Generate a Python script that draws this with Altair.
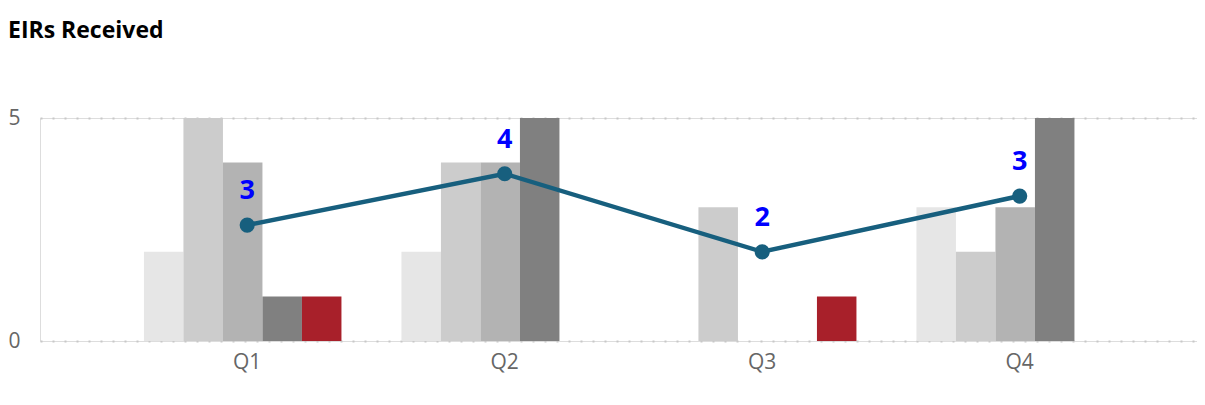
import altair as alt
import pandas as pd

quarters = ["Q1", "Q2", "Q3", "Q4"]
series = ["S1", "S2", "S3", "S4", "S5"]
series_colors = ["#e6e6e6", "#cccccc", "#b3b3b3", "#808080", "#a8202a"]
# bar values per series for Q1..Q4
values = {
    "S1": [2, 2, 0, 3],
    "S2": [5, 4, 3, 2],
    "S3": [4, 4, 0, 3],
    "S4": [1, 5, 0, 5],
    "S5": [1, 0, 1, 0],
}
line_values = [2.6, 3.75, 2.0, 3.25]
line_labels = ["3", "4", "2", "3"]

rows = []
for s in series:
    for q, v in zip(quarters, values[s]):
        rows.append({"quarter": q, "series": s, "value": v})
bars_df = pd.DataFrame(rows)
line_df = pd.DataFrame({"quarter": quarters, "avg": line_values, "label": line_labels})

FONT = "Segoe UI, Open Sans, sans-serif"

x_scale = alt.Scale(domain=quarters, paddingInner=0.198, paddingOuter=0.3456, align=0.584)
y_scale = alt.Scale(domain=[0, 5], nice=False)

x_enc = alt.X("quarter:N", scale=x_scale, sort=quarters,
              axis=alt.Axis(title=None, labelAngle=0, ticks=False, domain=False,
                            grid=False, labelPadding=10, labelFontSize=21,
                            labelColor="#666666", labelFont=FONT))

bars = alt.Chart(bars_df).transform_filter(alt.datum.value > 0).mark_bar().encode(
    x=x_enc,
    xOffset=alt.XOffset("series:N", sort=series,
                        scale=alt.Scale(domain=series, paddingInner=0, paddingOuter=0.114, align=0)),
    y=alt.Y("value:Q", scale=y_scale,
            axis=alt.Axis(title=None, values=[0, 5], ticks=False, domain=False,
                          grid=True, gridDash=[2, 10], gridColor="#c8c8c8", gridWidth=2,
                          labelPadding=20, labelFontSize=21, labelColor="#666666",
                          labelFont=FONT)),
    color=alt.Color("series:N", scale=alt.Scale(domain=series, range=series_colors), legend=None),
)

line = alt.Chart(line_df).mark_line(color="#175f7e", strokeWidth=4.5).encode(
    x=alt.X("quarter:N", scale=x_scale, sort=quarters),
    y=alt.Y("avg:Q", scale=y_scale),
)
points = alt.Chart(line_df).mark_point(filled=True, color="#175f7e", size=230, opacity=1).encode(
    x=alt.X("quarter:N", scale=x_scale, sort=quarters),
    y=alt.Y("avg:Q", scale=y_scale),
)
labels = alt.Chart(line_df).mark_text(color="#0000ff", fontSize=27, fontWeight="bold",
                                      font=FONT, baseline="bottom", dy=-20).encode(
    x=alt.X("quarter:N", scale=x_scale, sort=quarters),
    y=alt.Y("avg:Q", scale=y_scale),
    text="label:N",
)

chart = alt.layer(bars, line, points, labels).properties(
    width=1157, height=223,
    autosize=alt.AutoSizeParams(type="none"),
    padding={"left": 32, "top": 110, "right": 0, "bottom": 56},
    title=alt.TitleParams("EIRs Received", anchor="start", frame="group", fontSize=23,
                          fontWeight="bold", font=FONT, color="#000000", offset=64, dx=-32),
).configure_view(stroke=None).configure(background="white")

chart.save("out.html", embed_options={"renderer": "svg", "actions": False})
